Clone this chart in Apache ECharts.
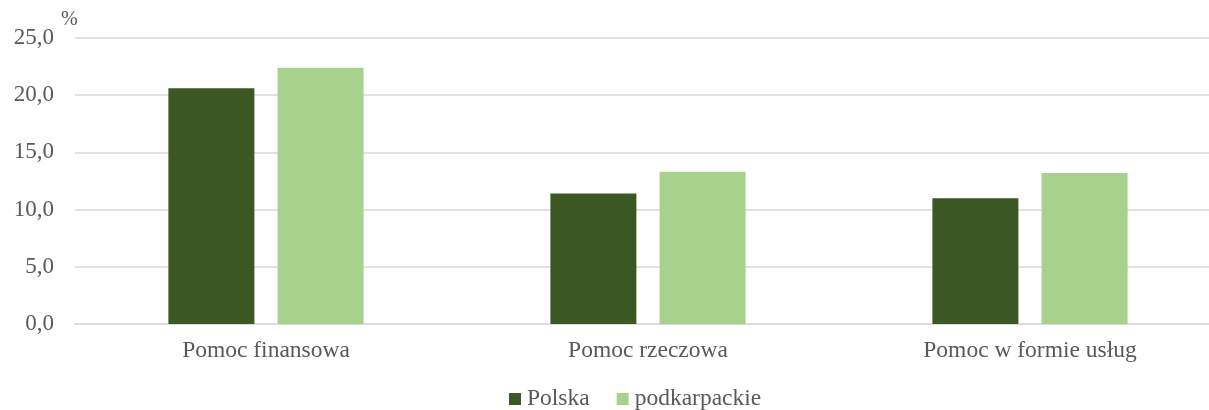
<!DOCTYPE html>
<html>
<head>
<meta charset="utf-8">
<script src="https://cdn.jsdelivr.net/npm/echarts@6/dist/echarts.min.js"></script>
<style>
  html, body { margin: 0; padding: 0; background: #ffffff; overflow: hidden; }
  #chart { width: 1221px; height: 410px; }
</style>
</head>
<body>
<div id="chart"></div>
<script>
// Forms of assistance, share in %
const categories = ['Pomoc finansowa', 'Pomoc rzeczowa', 'Pomoc w formie usług'];
const polska = [20.6, 11.4, 11.0];
const podkarpackie = [22.4, 13.3, 13.2];
const yTicks = { min: 0, max: 25, interval: 5 };

const textColor = '#595959';
const fontFamily = '"Liberation Serif", "Times New Roman", serif';

const chart = echarts.init(document.getElementById('chart'));
chart.setOption({
  animation: false,
  textStyle: { fontFamily: fontFamily },
  grid: { left: 75, top: 38, right: 0, height: 286, containLabel: false },
  legend: {
    top: 387,
    left: 509,
    padding: 0,
    itemWidth: 12,
    itemHeight: 12,
    itemGap: 27,
    icon: 'rect',
    textStyle: { color: textColor, fontSize: 23.5, fontFamily: fontFamily, padding: [0, 0, 0, 1] },
    data: ['Polska', 'podkarpackie']
  },
  xAxis: {
    type: 'category',
    data: categories,
    axisLine: { show: true, lineStyle: { color: '#d9d9d9', width: 1.5 } },
    axisTick: { show: false },
    axisLabel: { color: textColor, fontSize: 23.5, fontFamily: fontFamily, margin: 15 }
  },
  yAxis: {
    type: 'value',
    name: '%',
    nameLocation: 'end',
    nameGap: 8,
    nameTextStyle: { color: textColor, fontSize: 20, fontFamily: fontFamily, align: 'left', padding: [0, 0, 0, -14] },
    min: yTicks.min,
    max: yTicks.max,
    interval: yTicks.interval,
    axisLine: { show: false },
    axisTick: { show: false },
    splitLine: { lineStyle: { color: '#d9d9d9', width: 1.5 } },
    axisLabel: {
      color: textColor,
      fontSize: 23,
      fontFamily: fontFamily,
      margin: 21,
      formatter: v => v.toFixed(1).replace('.', ',')
    }
  },
  series: [
    {
      name: 'Polska',
      type: 'bar',
      data: polska,
      barWidth: 86,
      barGap: '27%',
      itemStyle: { color: '#3b5723' }
    },
    {
      name: 'podkarpackie',
      type: 'bar',
      data: podkarpackie,
      barWidth: 86,
      itemStyle: { color: '#a9d18e' }
    }
  ]
});
</script>
</body>
</html>
